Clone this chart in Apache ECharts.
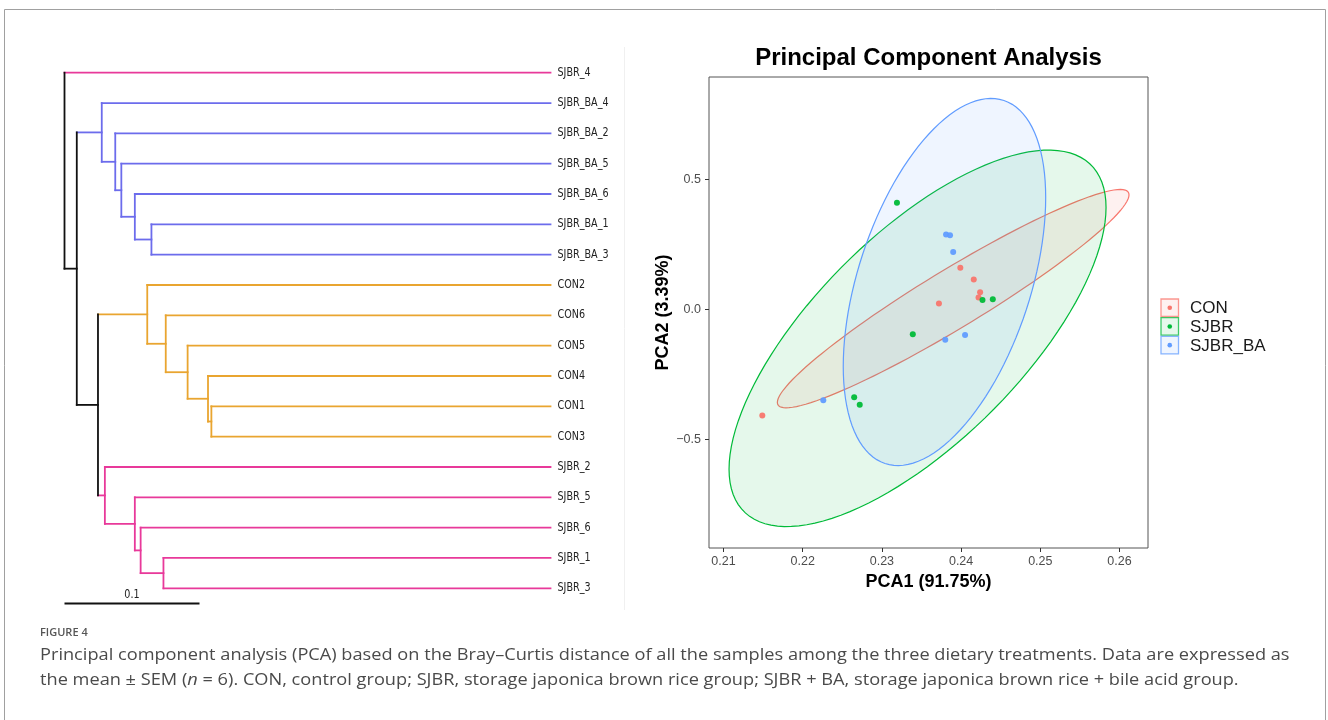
<!DOCTYPE html>
<html><head><meta charset="utf-8">
<script src="https://cdn.jsdelivr.net/npm/echarts@6/dist/echarts.min.js"></script>
<style>html,body{margin:0;padding:0;background:#fff;}#chart{width:1328px;height:720px;}</style>
</head><body><div id="chart"></div>
<script>
// ---------------- Dendrogram data ----------------
const leafNames = ['SJBR_4','SJBR_BA_4','SJBR_BA_2','SJBR_BA_5','SJBR_BA_6','SJBR_BA_1','SJBR_BA_3','CON2','CON6','CON5','CON4','CON1','CON3','SJBR_2','SJBR_5','SJBR_6','SJBR_1','SJBR_3'];
const leafClade = ['pink','blue','blue','blue','blue','blue','blue','orange','orange','orange','orange','orange','orange','pink','pink','pink','pink','pink'];
const leafDepth = 0.36;
const nodeNames = ['B5','B4','B3','B2','N2','C5','C4','C3','C2','C1','S4','S3','S2','S1','N3','N1','root'];
const nodeDepth = [0.0644,0.0521,0.0421,0.0376,0.0276,0.1088,0.1063,0.0912,0.0750,0.0613,0.0733,0.0564,0.0521,0.0299,0.0248,0.0091,0.0];
const nodeLeft  = ['SJBR_BA_1','SJBR_BA_6','SJBR_BA_5','SJBR_BA_2','SJBR_BA_4','CON1','CON4','CON5','CON6','CON2','SJBR_1','SJBR_6','SJBR_5','SJBR_2','C1','N2','SJBR_4'];
const nodeRight = ['SJBR_BA_3','B5','B4','B3','B2','CON3','C5','C4','C3','C2','SJBR_3','S4','S3','S2','S1','N3','N1'];
const nodeClade = ['blue','blue','blue','blue','blue','orange','orange','orange','orange','orange','pink','pink','pink','pink','black','black','black'];
const scaleBarLength = 0.1;
const scaleBarLabel = '0.1';

// ---------------- PCA data ----------------
const groups = ['CON','SJBR','SJBR_BA'];
const conX = [0.2149,0.2372,0.2399,0.2416,0.2424,0.2422];
const conY = [-0.4085,0.022,0.1596,0.1142,0.066,0.0454];
const sjbrX = [0.2319,0.2339,0.2265,0.2272,0.2427,0.2440];
const sjbrY = [0.410,-0.0963,-0.3384,-0.3673,0.0358,0.0385];
const sjbrbaX = [0.2226,0.2380,0.2405,0.2390,0.2381,0.2386];
const sjbrbaY = [-0.3494,-0.117,-0.099,0.220,0.2875,0.2847];
// confidence ellipses: centre, half-extent in x and y, correlation
const ellCx = [0.2390, 0.2345, 0.2379];
const ellCy = [0.041, -0.1117, 0.105];
const ellSx = [0.0222, 0.0238, 0.01278];
const ellSy = [0.420, 0.724, 0.706];
const ellRho = [0.95, 0.695, 0.46];
const xTicks = [0.21,0.22,0.23,0.24,0.25,0.26];
const yTicks = [-0.5,0,0.5];
const xTitle = 'PCA1 (91.75%)';
const yTitle = 'PCA2 (3.39%)';
const plotTitle = 'Principal Component Analysis';

// ---------------- styles ----------------
const cladeColor = {pink:'#e8399a', blue:'#6c6cec', orange:'#e9a530', black:'#111111'};
const groupColors = ['#F8766D','#00BA38','#619CFF'];
function rgba(hex,a){const n=parseInt(hex.slice(1),16);return 'rgba('+(n>>16&255)+','+(n>>8&255)+','+(n&255)+','+a+')';}

// build tree geometry from structure
const info = {};
leafNames.forEach((n,i)=>{info[n]={depth:leafDepth,y:i,clade:leafClade[i]};});
nodeNames.forEach((n,i)=>{const a=info[nodeLeft[i]],b=info[nodeRight[i]];info[n]={depth:nodeDepth[i],y:(a.y+b.y)/2,clade:nodeClade[i]};});
const segments=[];
nodeNames.forEach((n,i)=>{
  const p=info[n],a=info[nodeLeft[i]],b=info[nodeRight[i]];
  segments.push([p.depth,a.y,a.depth,a.y,a.clade]);
  segments.push([p.depth,b.y,b.depth,b.y,b.clade]);
  segments.push([p.depth,a.y,p.depth,b.y,p.clade]);
});

const chart = echarts.init(document.getElementById('chart'));
const pcaX=[conX,sjbrX,sjbrbaX], pcaY=[conY,sjbrY,sjbrbaY];
const series=[];
series.push({type:'custom',xAxisIndex:0,yAxisIndex:0,silent:true,clip:false,
  data:segments.map(s=>[s[0],s[1],s[2],s[3]]),encode:{x:[0,2],y:[1,3]},
  renderItem:(params,api)=>{const s=segments[params.dataIndex];const p1=api.coord([s[0],s[1]]),p2=api.coord([s[2],s[3]]);
    return {type:'line',shape:{x1:p1[0],y1:p1[1],x2:p2[0],y2:p2[1]},style:{stroke:cladeColor[s[4]],lineWidth:1.8,lineCap:'square'}};}});
series.push({type:'custom',xAxisIndex:0,yAxisIndex:0,silent:true,clip:false,
  data:leafNames.map((n,i)=>[leafDepth,i]),
  renderItem:(params,api)=>{const p=api.coord([api.value(0),api.value(1)]);
    return {type:'text',x:p[0]+7,y:p[1],scaleX:0.8,style:{x:0,y:0,text:leafNames[params.dataIndex],fontFamily:'DejaVu Sans',fontSize:12,fill:'#222',verticalAlign:'middle',align:'left'}};}});
series.push({type:'custom',xAxisIndex:0,yAxisIndex:0,silent:true,clip:false,
  data:[[0,scaleBarLength]],
  renderItem:(params,api)=>{const yy=leafNames.length-0.5;const p1=api.coord([api.value(0),yy]),p2=api.coord([api.value(1),yy]);
    return {type:'group',children:[
      {type:'line',shape:{x1:p1[0],y1:p1[1],x2:p2[0],y2:p2[1]},style:{stroke:'#111',lineWidth:2}},
      {type:'text',x:(p1[0]+p2[0])/2,y:p1[1]-9,scaleX:0.8,style:{x:0,y:0,text:scaleBarLabel,fontFamily:'DejaVu Sans',fontSize:12,fill:'#222',align:'center',verticalAlign:'middle'}}]};}});
groups.forEach((g,gi)=>{
  series.push({type:'custom',name:g+' ellipse',xAxisIndex:1,yAxisIndex:1,silent:true,clip:true,z:2,
    data:[[ellCx[gi],ellCy[gi]]],
    renderItem:(params,api)=>{const cx=api.value(0),cy=api.value(1),sx=ellSx[gi],sy=ellSy[gi],r=ellRho[gi];const pts=[];
      for(let k=0;k<=120;k++){const t=2*Math.PI*k/120;pts.push(api.coord([cx+sx*Math.cos(t),cy+sy*(r*Math.cos(t)+Math.sqrt(1-r*r)*Math.sin(t))]));}
      return {type:'polygon',shape:{points:pts},style:{fill:rgba(groupColors[gi],0.1),stroke:groupColors[gi],lineWidth:1.2}};}});
});
groups.forEach((g,gi)=>{
  series.push({type:'scatter',name:g,xAxisIndex:1,yAxisIndex:1,z:3,symbolSize:6,
    itemStyle:{color:groupColors[gi],opacity:0.95},data:pcaX[gi].map((x,i)=>[x,pcaY[gi][i]])});
});

const capStyle={fontFamily:'Open Sans',fontSize:17,fill:'#4a4a4a'};
const graphics=[
  {type:'rect',shape:{x:4.5,y:9.5,width:1321,height:800},style:{fill:'none',stroke:'#a0a0a0',lineWidth:1},silent:true},
  {type:'line',shape:{x1:624.5,y1:47,x2:624.5,y2:610},style:{stroke:'#f0f0f0',lineWidth:1},silent:true},
  {type:'text',x:928.5,y:58,style:{text:plotTitle,fontFamily:'Liberation Sans',fontWeight:'bold',fontSize:24,fill:'#000',align:'center',verticalAlign:'middle'}},
  {type:'text',x:40,y:633,style:{text:'FIGURE 4',fontFamily:'Open Sans',fontWeight:600,fontSize:11,fill:'#555',verticalAlign:'middle'}},
  {type:'text',x:40,y:655,scaleX:1.07,style:Object.assign({x:0,y:0,text:'Principal component analysis (PCA) based on the Bray\u2013Curtis distance of all the samples among the three dietary treatments. Data are expressed as',verticalAlign:'middle'},capStyle)},
  {type:'text',x:40,y:680,scaleX:1.07,style:Object.assign({x:0,y:0,text:'the mean \u00b1 SEM ({i|n} = 6). CON, control group; SJBR, storage japonica brown rice group; SJBR + BA, storage japonica brown rice + bile acid group.',verticalAlign:'middle',rich:{i:Object.assign({fontStyle:'italic'},capStyle)}},capStyle)}
];
groups.forEach((g,gi)=>{
  const top=299+gi*18.7;
  graphics.push({type:'rect',shape:{x:1161,y:top,width:17.5,height:17.5},style:{fill:rgba(groupColors[gi],0.1),stroke:rgba(groupColors[gi],0.75),lineWidth:1.3}});
  graphics.push({type:'circle',shape:{cx:1169.75,cy:top+8.75,r:2.3},style:{fill:groupColors[gi]}});
  graphics.push({type:'text',x:1190,y:top+9.5,style:{text:g,fontFamily:'Liberation Sans',fontSize:17,fill:'#1a1a1a',verticalAlign:'middle'}});
});

chart.setOption({
  animation:false,
  backgroundColor:'#fff',
  grid:[
    {left:64.5,top:72.7,width:486,height:515.6,show:false},
    {left:709,top:77,width:439,height:471,show:true,borderColor:'#555',borderWidth:1,backgroundColor:'transparent'}
  ],
  xAxis:[
    {gridIndex:0,type:'value',min:0,max:leafDepth,show:false},
    {gridIndex:1,type:'value',min:0.208169,max:0.263598,position:'bottom',
      axisLine:{show:false,onZero:false},splitLine:{show:false},
      axisTick:{show:true,length:4,customValues:xTicks,lineStyle:{color:'#333'}},
      axisLabel:{customValues:xTicks,formatter:v=>(+v).toFixed(2),color:'#4d4d4d',fontSize:12.5,fontFamily:'Liberation Sans',margin:7},
      name:xTitle,nameLocation:'middle',nameGap:21,nameTextStyle:{fontFamily:'Liberation Sans',fontWeight:'bold',fontSize:18,color:'#000'}}
  ],
  yAxis:[
    {gridIndex:0,type:'value',min:0,max:leafNames.length-1,inverse:true,show:false},
    {gridIndex:1,type:'value',min:-0.91808,max:0.89346,position:'left',
      axisLine:{show:false,onZero:false},splitLine:{show:false},
      axisTick:{show:true,length:4,customValues:yTicks,lineStyle:{color:'#333'}},
      axisLabel:{customValues:yTicks,formatter:v=>(+v).toFixed(1).replace('-','\u2212'),color:'#4d4d4d',fontSize:12.5,fontFamily:'Liberation Sans',margin:8},
      name:yTitle,nameLocation:'middle',nameGap:37,nameTextStyle:{fontFamily:'Liberation Sans',fontWeight:'bold',fontSize:18,color:'#000'}}
  ],
  graphic:graphics,
  series:series
});
</script></body></html>
